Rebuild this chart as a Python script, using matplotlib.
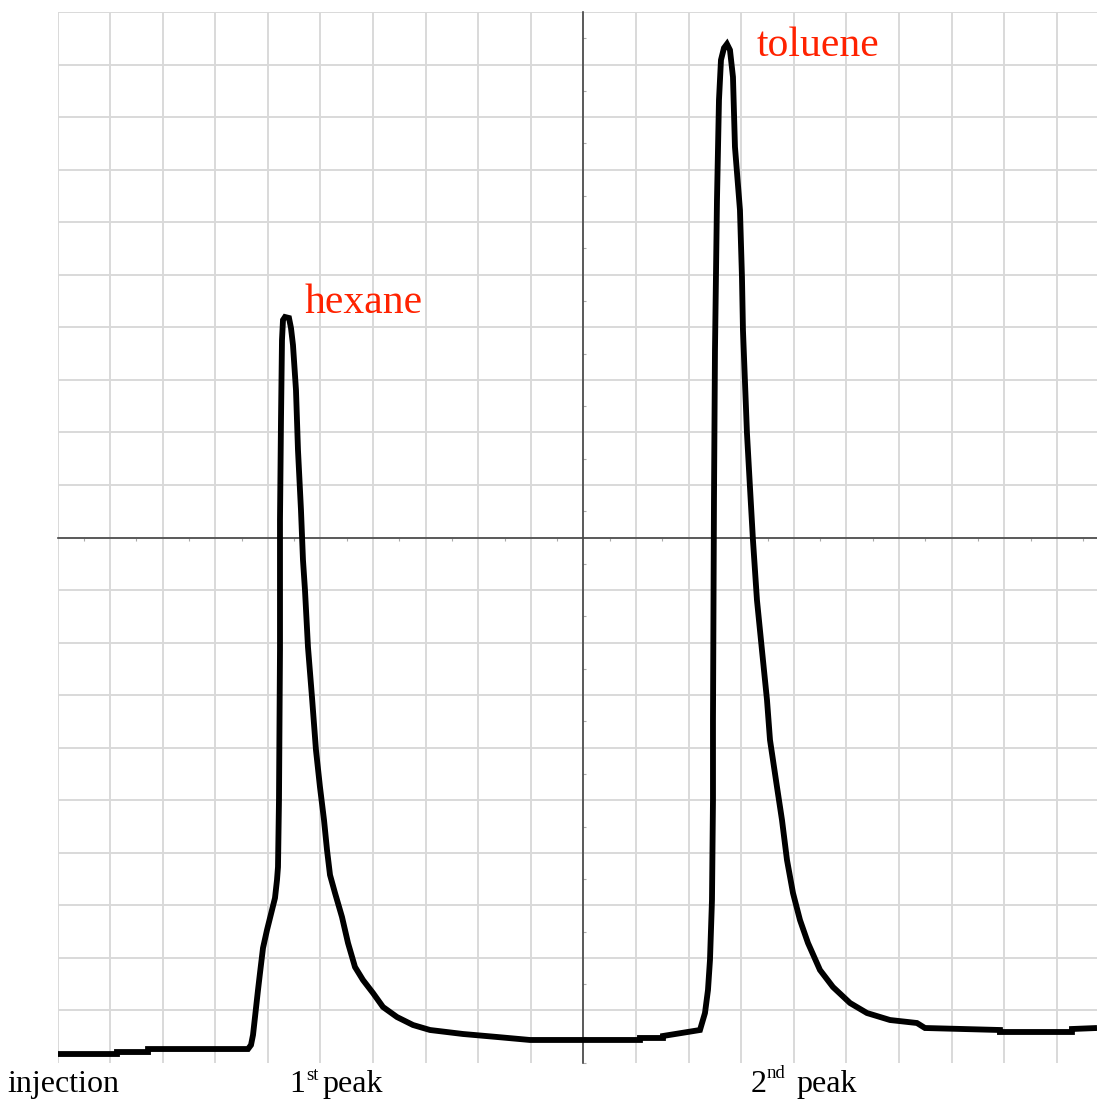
import matplotlib
matplotlib.use("Agg")
import matplotlib.pyplot as plt
import numpy as np
from matplotlib.ticker import MultipleLocator

# Detector trace, in grid-cell units (x: time, y: signal)
retention = [0.0, 1.131, 1.131, 1.721, 1.721, 3.622, 3.679, 3.717, 3.755, 3.812,
             3.850, 3.907, 3.983, 4.078, 4.135, 4.173, 4.192, 4.211, 4.230, 4.230,
             4.249, 4.268, 4.287, 4.325, 4.401, 4.439, 4.477, 4.534, 4.572, 4.629,
             4.667, 4.705, 4.762, 4.838, 4.914, 4.990, 5.067, 5.124, 5.181, 5.276,
             5.409, 5.523, 5.656, 5.808, 5.998, 6.188, 6.454, 6.759, 7.082, 7.709,
             8.356, 8.983, 11.074, 11.074, 11.511, 11.511, 12.215, 12.310, 12.367, 12.405,
             12.443, 12.462, 12.462, 12.481, 12.500, 12.538, 12.576, 12.614, 12.671, 12.728,
             12.785, 12.842, 12.880, 12.975, 13.013, 13.032, 13.108, 13.165, 13.222, 13.298,
             13.393, 13.489, 13.546, 13.679, 13.774, 13.869, 13.983, 14.116, 14.268, 14.496,
             14.743, 15.067, 15.390, 15.827, 16.340, 16.492, 17.918, 17.918, 19.287, 19.287,
             19.763]
signal = [0.171, 0.171, 0.209, 0.209, 0.266, 0.266, 0.343, 0.533, 0.875, 1.389,
          1.713, 2.188, 2.531, 2.912, 3.140, 3.482, 3.730, 5.005, 7.859, 10.333,
          12.236, 13.758, 14.139, 14.196, 14.177, 13.987, 13.663, 12.807, 11.665, 10.523,
          9.572, 9.001, 7.916, 6.965, 5.956, 5.252, 4.624, 4.053, 3.578, 3.235,
          2.778, 2.284, 1.827, 1.579, 1.332, 1.066, 0.875, 0.723, 0.628, 0.552,
          0.495, 0.438, 0.438, 0.476, 0.476, 0.514, 0.628, 0.951, 1.389, 1.960,
          3.102, 5.005, 6.527, 10.714, 13.568, 16.422, 18.325, 19.087, 19.315, 19.391,
          19.277, 18.763, 17.431, 16.232, 14.957, 13.948, 11.988, 10.961, 9.952, 8.811,
          7.859, 6.908, 6.147, 5.252, 4.624, 3.863, 3.235, 2.721, 2.284, 1.770,
          1.446, 1.142, 0.951, 0.818, 0.761, 0.666, 0.628, 0.590, 0.590, 0.647,
          0.666]

W, H = 1097, 1099
fig = plt.figure(figsize=(W / 100, H / 100), dpi=100)
ax = fig.add_axes([57.5 / W, 36 / H, (W - 57.5) / W, 1051 / H])

ax.set_xlim(0, 19.763)
ax.set_ylim(0, 20)
ax.set_xticks(np.arange(0, 20, 1))
ax.set_yticks(np.arange(1, 21, 1))
ax.xaxis.set_minor_locator(MultipleLocator(0.5))
ax.yaxis.set_minor_locator(MultipleLocator(0.5))
ax.grid(True, which="major", color="#d9d9d9", linewidth=1.4)
ax.set_axisbelow(True)

for s in ("top", "right"):
    ax.spines[s].set_visible(False)
ax.spines["left"].set_position(("data", 10))
ax.spines["bottom"].set_position(("data", 10))
for s in ("left", "bottom"):
    ax.spines[s].set_color("#444444")
    ax.spines[s].set_linewidth(1.2)
ax.tick_params(which="major", length=0, labelbottom=False, labelleft=False)
ax.tick_params(axis="x", which="minor", direction="out", length=2.5,
               width=0.8, color="#aaaaaa")
ax.tick_params(axis="y", which="minor", direction="in", length=2.5,
               width=0.8, color="#aaaaaa")

ax.plot(retention, signal, color="black", linewidth=4.2,
        solid_joinstyle="miter", solid_capstyle="butt", zorder=5)

serif = ["Liberation Serif", "DejaVu Serif"]
red = "#ff2200"

def ftext(px, py, s, size, color="black"):
    fig.text(px / W, 1 - py / H, s, fontsize=size, color=color,
             family=serif, ha="left", va="baseline")

ftext(305, 313, "hexane", 30, red)
ftext(757, 56, "toluene", 30, red)

ftext(7, 1092, "injection", 23)
ftext(289, 1092, "1", 23)
ftext(306, 1080, "st", 13.5)
ftext(322, 1092, "peak", 23)
ftext(751, 1092, "2", 23)
ftext(767, 1078, "nd", 13.5)
ftext(796, 1092, "peak", 23)

fig.savefig("out.png", dpi=100)
